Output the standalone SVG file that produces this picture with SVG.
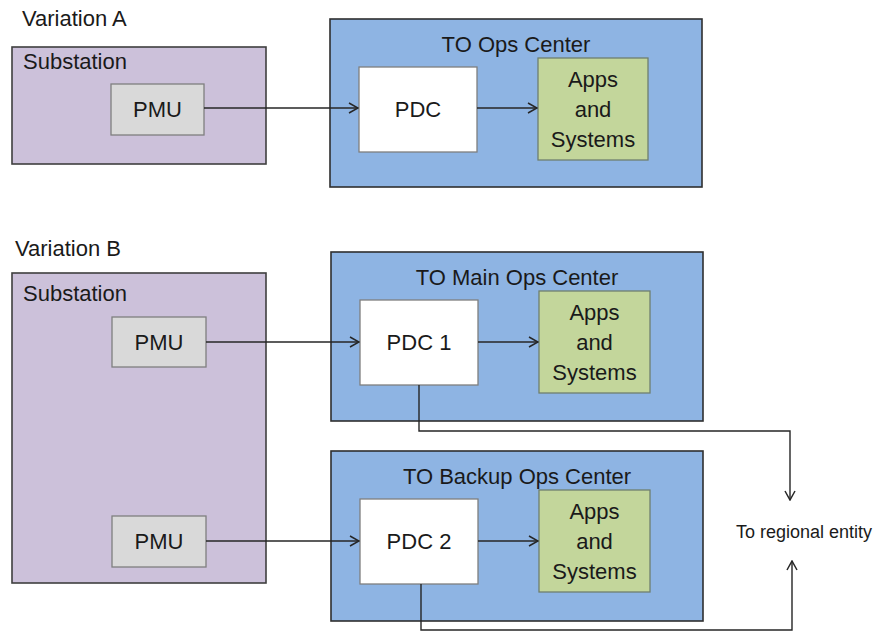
<svg xmlns="http://www.w3.org/2000/svg" width="876" height="632" viewBox="0 0 876 632">
<defs>
<style>
text{font-family:"Liberation Sans",Arial,sans-serif;fill:#1a1a1a}
.t22{font-size:22px}
.mid{text-anchor:middle}
.sub{fill:#ccc1da;stroke:#3f3f3f;stroke-width:1.6}
.ops{fill:#8eb4e3;stroke:#2f2f2f;stroke-width:1.6}
.pmu{fill:#d9d9d9;stroke:#7f7f7f;stroke-width:1.3}
.pdc{fill:#ffffff;stroke:#7f7f7f;stroke-width:1.3}
.app{fill:#c3d69b;stroke:#6f7f6f;stroke-width:1.3}
.con{fill:none;stroke:#262626;stroke-width:1.4}
</style>
<marker id="arr" viewBox="0 0 12 12" refX="11" refY="6" markerWidth="12" markerHeight="12" markerUnits="userSpaceOnUse" orient="auto">
<path d="M2,1 L11,6 L2,11" fill="none" stroke="#262626" stroke-width="1.5"/>
</marker>
</defs>

<text class="t22" x="22" y="26">Variation A</text>
<text class="t22" x="15" y="256">Variation B</text>

<g id="substationA">
<rect class="sub" x="12" y="47" width="254" height="117"/>
<text class="t22" x="23" y="69">Substation</text>
</g>
<g id="pmuA">
<rect class="pmu" x="111" y="84" width="93" height="51"/>
<text class="t22 mid" x="157.5" y="117">PMU</text>
</g>
<g id="opsA">
<rect class="ops" x="330" y="19" width="372" height="168"/>
<text class="t22 mid" x="516" y="52">TO Ops Center</text>
</g>
<g id="pdcA">
<rect class="pdc" x="359" y="67" width="118" height="85"/>
<text class="t22 mid" x="418" y="117">PDC</text>
</g>
<g id="appsA">
<rect class="app" x="538" y="58" width="110" height="102"/>
<text class="t22 mid" x="593" y="87">Apps</text>
<text class="t22 mid" x="593" y="117">and</text>
<text class="t22 mid" x="593" y="147">Systems</text>
</g>

<g id="substationB">
<rect class="sub" x="12" y="273" width="254" height="310"/>
<text class="t22" x="23" y="301">Substation</text>
</g>
<g id="pmuB1">
<rect class="pmu" x="112" y="317" width="94" height="50"/>
<text class="t22 mid" x="159" y="350">PMU</text>
</g>
<g id="pmuB2">
<rect class="pmu" x="112" y="516" width="94" height="51"/>
<text class="t22 mid" x="159" y="549">PMU</text>
</g>

<g id="opsMain">
<rect class="ops" x="331" y="252" width="372" height="169"/>
<text class="t22 mid" x="517" y="285">TO Main Ops Center</text>
</g>
<g id="pdc1">
<rect class="pdc" x="360" y="300" width="118" height="85"/>
<text class="t22 mid" x="419" y="350">PDC 1</text>
</g>
<g id="appsMain">
<rect class="app" x="539" y="291" width="111" height="102"/>
<text class="t22 mid" x="594.5" y="320">Apps</text>
<text class="t22 mid" x="594.5" y="350">and</text>
<text class="t22 mid" x="594.5" y="380">Systems</text>
</g>

<g id="opsBackup">
<rect class="ops" x="331" y="451" width="372" height="170"/>
<text class="t22 mid" x="517" y="484">TO Backup Ops Center</text>
</g>
<g id="pdc2">
<rect class="pdc" x="360" y="499" width="118" height="85"/>
<text class="t22 mid" x="419" y="549">PDC 2</text>
</g>
<g id="appsBackup">
<rect class="app" x="539" y="490" width="111" height="102"/>
<text class="t22 mid" x="594.5" y="519">Apps</text>
<text class="t22 mid" x="594.5" y="549">and</text>
<text class="t22 mid" x="594.5" y="579">Systems</text>
</g>

<g id="regional">
<text x="804" y="538" style="font-size:18px" class="mid">To regional entity</text>
</g>

<g id="connectors">
<path class="con" d="M204,108 H358" marker-end="url(#arr)"/>
<path class="con" d="M477,108 H537" marker-end="url(#arr)"/>
<path class="con" d="M206,342 H359" marker-end="url(#arr)"/>
<path class="con" d="M478,342 H538" marker-end="url(#arr)"/>
<path class="con" d="M206,541 H359" marker-end="url(#arr)"/>
<path class="con" d="M478,541 H538" marker-end="url(#arr)"/>
<path class="con" d="M419,385 V431 H790 V500" marker-end="url(#arr)"/>
<path class="con" d="M421,584 V630 H792 V561" marker-end="url(#arr)"/>
</g>
</svg>
